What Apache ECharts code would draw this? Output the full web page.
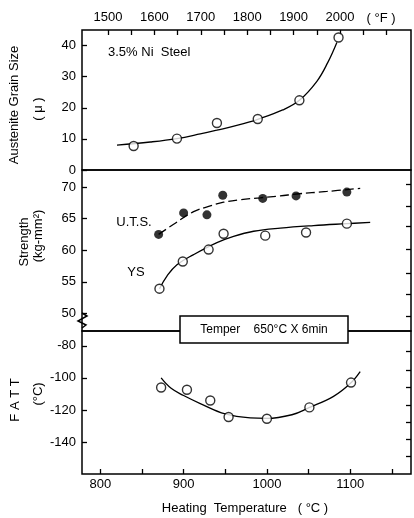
<!DOCTYPE html>
<html><head><meta charset="utf-8">
<script src="https://cdn.jsdelivr.net/npm/echarts@6/dist/echarts.min.js"></script>
<style>html,body{margin:0;padding:0;background:#fff}#c{width:414px;height:518px}</style>
</head><body><div id="c"></div>
<script>
// ---- data ----
const grainT = [840, 892, 940, 989, 1039, 1086];
const grainSize = [7.7, 10.1, 15.1, 16.4, 22.4, 42.6];
const grainCurveT = [820, 860, 892, 920, 940, 965, 989, 1019, 1039, 1060, 1073, 1084];
const grainCurveV = [8.0, 9.0, 10.1, 11.6, 12.8, 14.4, 16.3, 19.3, 22.4, 28.5, 34.5, 41];

const utsT = [870, 900, 928, 947, 995, 1035, 1096];
const utsV = [62.5, 65.9, 65.6, 68.7, 68.2, 68.6, 69.2];
const utsCurveT = [870, 888, 912, 932, 948, 968, 992, 1016, 1036, 1072, 1112];
const utsCurveV = [62.5, 64.1, 66.1, 67.0, 67.6, 68.0, 68.3, 68.6, 68.9, 69.3, 69.8];

const ysT = [871, 899, 930, 948, 998, 1047, 1096];
const ysV = [53.9, 58.2, 60.1, 62.6, 62.3, 62.8, 64.2];
const ysCurveT = [871, 880, 892, 912, 940, 960, 984, 1016, 1056, 1096, 1124];
const ysCurveV = [53.9, 55.9, 57.7, 59.3, 61.2, 62.2, 63.0, 63.5, 63.9, 64.2, 64.4];

const fattT = [873, 904, 932, 954, 1000, 1051, 1101];
const fattV = [-106, -107.4, -114.1, -124.4, -125.5, -118.4, -102.9];
const fattCurveT = [873, 885, 900, 920, 950, 980, 1000, 1030, 1050, 1080, 1100, 1112];
const fattCurveV = [-100, -106.5, -111, -116, -122.5, -125, -125.3, -123, -118.7, -111.5, -103.5, -96];

// ---- ticks / labels ----
const bottomTicks = [800, 850, 900, 950, 1000, 1050, 1100, 1150];
const bottomLabels = [800, 900, 1000, 1100];
const topTicksF = [1500, 1550, 1600, 1650, 1700, 1750, 1800, 1850, 1900, 1950, 2000, 2050, 2100];
const topLabelsF = [1500, 1600, 1700, 1800, 1900, 2000];
const grainLabels = [0, 10, 20, 30, 40];
const strengthLabels = [50, 55, 60, 65, 70];
const strengthRightTicks = [70.5, 66.9, 63.8, 60.1, 56.4, 53.0, 49.6];
const fattLabels = [-80, -100, -120, -140];
const fattRightTicks = [-83.6, -95, -106, -117, -127.6, -138, -149];

const zip = (a, b) => a.map((v, i) => [v, b[i]]);
const FONT = 'Liberation Sans';
const BLK = '#000';
const plain = (v) => String(v);
const lbl = (extra) => Object.assign({color: BLK, fontFamily: FONT, fontSize: 13, formatter: plain}, extra || {});
const tick = (vals) => ({show: true, inside: true, length: 5, customValues: vals, lineStyle: {color: BLK, width: 1.3}});
const hiddenX = (g) => ({type: 'value', gridIndex: g, min: 778, max: 1173, show: false});

const chart = echarts.init(document.getElementById('c'), null, {renderer: 'canvas'});
const gridStyle = {left: 82, right: 3, show: true, borderColor: BLK, borderWidth: 1.5, backgroundColor: 'transparent'};
const circle = {color: '#fff', borderColor: BLK, borderWidth: 1.4};

chart.setOption({
  animation: false,
  backgroundColor: '#fff',
  textStyle: {fontFamily: FONT, color: BLK},
  grid: [
    Object.assign({top: 30, height: 140}, gridStyle),
    Object.assign({top: 170, height: 161}, gridStyle),
    Object.assign({top: 331, height: 143}, gridStyle)
  ],
  xAxis: [
    hiddenX(0),
    {type: 'value', gridIndex: 0, position: 'top', min: 1444, max: 2153,
     axisLine: {show: false}, splitLine: {show: false},
     axisTick: tick(topTicksF),
     axisLabel: lbl({customValues: topLabelsF, margin: 6})},
    hiddenX(1),
    {type: 'value', gridIndex: 2, position: 'bottom', min: 778, max: 1173,
     axisLine: {show: false}, splitLine: {show: false},
     axisTick: tick(bottomTicks),
     axisLabel: lbl({customValues: bottomLabels, margin: 4})}
  ],
  yAxis: [
    {type: 'value', gridIndex: 0, min: 0, max: 45, axisLine: {show: false}, splitLine: {show: false},
     axisTick: tick(grainLabels), axisLabel: lbl({customValues: grainLabels, margin: 6})},
    {type: 'value', gridIndex: 1, min: 47.2, max: 72.7, axisLine: {show: false}, splitLine: {show: false},
     axisTick: tick(strengthLabels), axisLabel: lbl({customValues: strengthLabels, margin: 6})},
    {type: 'value', gridIndex: 1, position: 'right', min: 47.2, max: 72.7, axisLine: {show: false}, splitLine: {show: false},
     axisTick: tick(strengthRightTicks), axisLabel: {show: false}},
    {type: 'value', gridIndex: 2, min: -160, max: -70.7, axisLine: {show: false}, splitLine: {show: false},
     axisTick: tick(fattLabels), axisLabel: lbl({customValues: fattLabels, margin: 6})},
    {type: 'value', gridIndex: 2, position: 'right', min: -160, max: -70.7, axisLine: {show: false}, splitLine: {show: false},
     axisTick: tick(fattRightTicks), axisLabel: {show: false}}
  ],
  series: [
    {type: 'line', xAxisIndex: 0, yAxisIndex: 0, data: zip(grainCurveT, grainCurveV), smooth: 0.4,
     symbol: 'none', lineStyle: {color: BLK, width: 1.3}, z: 2},
    {type: 'scatter', xAxisIndex: 0, yAxisIndex: 0, data: zip(grainT, grainSize), symbol: 'circle', symbolSize: 9,
     itemStyle: circle, z: 3},

    {type: 'line', xAxisIndex: 2, yAxisIndex: 1, data: zip(utsCurveT, utsCurveV), smooth: 0.4,
     symbol: 'none', lineStyle: {color: BLK, width: 1.3, type: [9, 4]}, z: 2},
    {type: 'scatter', xAxisIndex: 2, yAxisIndex: 1, data: zip(utsT, utsV), symbol: 'circle', symbolSize: 9,
     itemStyle: {color: BLK}, z: 3},
    {type: 'line', xAxisIndex: 2, yAxisIndex: 1, data: zip(ysCurveT, ysCurveV), smooth: 0.4,
     symbol: 'none', lineStyle: {color: BLK, width: 1.3}, z: 2},
    {type: 'scatter', xAxisIndex: 2, yAxisIndex: 1, data: zip(ysT, ysV), symbol: 'circle', symbolSize: 9,
     itemStyle: circle, z: 3},

    {type: 'line', xAxisIndex: 3, yAxisIndex: 3, data: zip(fattCurveT, fattCurveV), smooth: 0.4,
     symbol: 'none', lineStyle: {color: BLK, width: 1.3}, z: 2},
    {type: 'scatter', xAxisIndex: 3, yAxisIndex: 3, data: zip(fattT, fattV), symbol: 'circle', symbolSize: 9,
     itemStyle: circle, z: 3}
  ],
  graphic: [
    {type: 'text', x: 381, y: 18, style: {text: '( °F )', fill: BLK, font: '13px ' + FONT, align: 'center', verticalAlign: 'middle'}},
    {type: 'text', x: 108, y: 52, style: {text: '3.5% Ni  Steel', fill: BLK, font: '13px ' + FONT, align: 'left', verticalAlign: 'middle'}},
    {type: 'text', x: 134, y: 222, style: {text: 'U.T.S.', fill: BLK, font: '13px ' + FONT, align: 'center', verticalAlign: 'middle'}},
    {type: 'text', x: 136, y: 272, style: {text: 'YS', fill: BLK, font: '13px ' + FONT, align: 'center', verticalAlign: 'middle'}},
    {type: 'text', x: 14, y: 105, rotation: Math.PI / 2, style: {text: 'Austenite Grain Size', fill: BLK, font: '13px ' + FONT, align: 'center', verticalAlign: 'middle'}},
    {type: 'text', x: 38, y: 109, rotation: Math.PI / 2, style: {text: '( μ )', fill: BLK, font: '13px ' + FONT, align: 'center', verticalAlign: 'middle'}},
    {type: 'text', x: 24, y: 242, rotation: Math.PI / 2, style: {text: 'Strength', fill: BLK, font: '13px ' + FONT, align: 'center', verticalAlign: 'middle'}},
    {type: 'text', x: 38, y: 236, rotation: Math.PI / 2, style: {text: '(kg-mm²)', fill: BLK, font: '13px ' + FONT, align: 'center', verticalAlign: 'middle'}},
    {type: 'text', x: 15, y: 400, rotation: Math.PI / 2, style: {text: 'F A T T', fill: BLK, font: '13px ' + FONT, align: 'center', verticalAlign: 'middle'}},
    {type: 'text', x: 38, y: 394, rotation: Math.PI / 2, style: {text: '(°C)', fill: BLK, font: '13px ' + FONT, align: 'center', verticalAlign: 'middle'}},
    {type: 'text', x: 245, y: 508, style: {text: 'Heating  Temperature   ( °C )', fill: BLK, font: '13px ' + FONT, align: 'center', verticalAlign: 'middle'}},
    {type: 'rect', shape: {x: 180, y: 316, width: 168, height: 27}, style: {fill: '#fff', stroke: BLK, lineWidth: 1.5}, z: 10},
    {type: 'text', x: 264, y: 329.5, z: 11, style: {text: 'Temper    650°C X 6min', fill: BLK, font: '12px ' + FONT, align: 'center', verticalAlign: 'middle'}},
    {type: 'polyline', z: 10, shape: {points: [[82, 313], [87, 316], [78, 321], [86, 325], [82, 328]]}, style: {stroke: BLK, lineWidth: 1.5, fill: null}}
  ]
});
</script>
</body></html>
